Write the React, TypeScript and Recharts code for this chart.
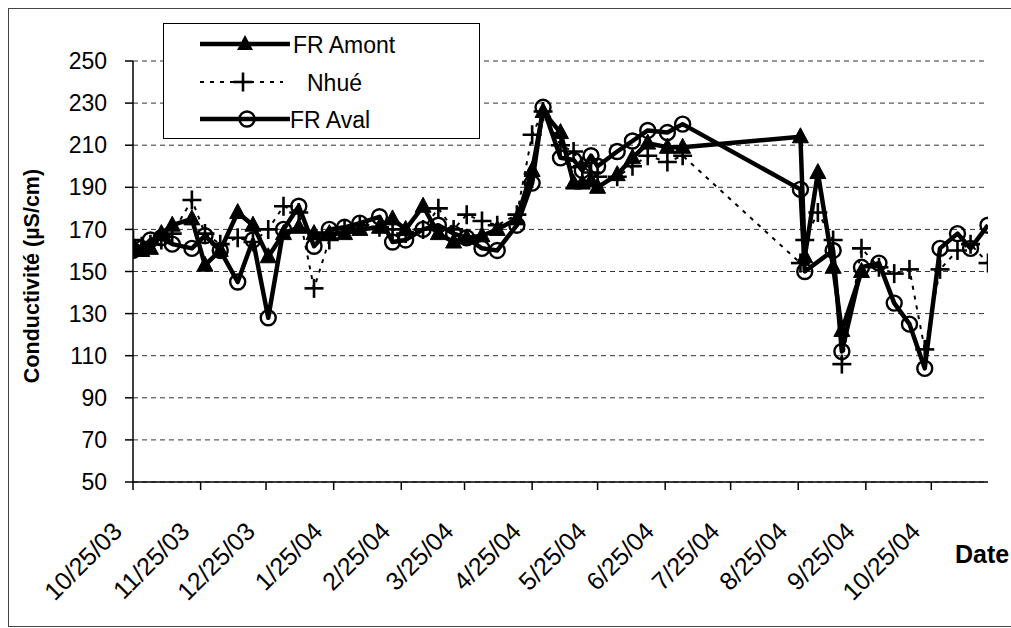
import React from 'react';
import { LineChart, Line, XAxis, YAxis, CartesianGrid, Legend } from 'recharts';

const sampleDates = [
  '2003-10-25', '2003-10-29', '2003-11-02', '2003-11-07', '2003-11-12', '2003-11-21', '2003-11-27',
  '2003-12-04', '2003-12-12', '2003-12-19', '2003-12-26', '2004-01-02', '2004-01-09', '2004-01-16',
  '2004-01-23', '2004-01-30', '2004-02-06', '2004-02-15', '2004-02-21', '2004-02-27', '2004-03-06',
  '2004-03-13', '2004-03-20', '2004-03-26', '2004-04-02', '2004-04-09', '2004-04-18', '2004-04-25',
  '2004-04-30', '2004-05-08', '2004-05-14', '2004-05-18', '2004-05-22', '2004-05-25', '2004-06-03',
  '2004-06-10', '2004-06-17', '2004-06-26', '2004-07-03', '2004-08-26', '2004-08-28', '2004-09-03',
  '2004-09-10', '2004-09-14', '2004-09-23', '2004-10-01', '2004-10-08', '2004-10-15', '2004-10-22',
  '2004-10-29', '2004-11-06', '2004-11-12', '2004-11-20',
];

const frAmont: (number | null)[] = [
  160, 160, 161, 168, 172, 175, 153, 160, 178, 172, 157, 168, 171, 168, 168, 168, 170, 171, 175, 170, 181,
  168, 164, 166, 167, 170, 175, 198, 226, 216, 192, 192, 193, 190, 196, 204, 211, 209, 209, 214, 157, 197,
  152, 122, 150, null, null, null, null, null, null, null, null,
];

const nhue: (number | null)[] = [
  165, 162, 163, 165, 168, 184, 168, 163, 166, 164, 170, 181, 178, 142, 165, 170, 172, 171, 170, 168, 170,
  180, 170, 177, 174, 172, 177, 215, 226, 210, 207, 200, 197, 195, 195, 200, 205, 202, 205, 154, 165, 178,
  165, 106, 161, 152, 149, 151, 113, 151, 160, 163, 154,
];

const frAval: (number | null)[] = [
  160, 161, 165, 166, 163, 161, 167, 160, 145, 165, 128, 170, 181, 162, 170, 171, 173, 176, 164, 165, 170,
  172, 168, 166, 161, 160, 172, 192, 228, 204, 203, 198, 205, 200, 207, 212, 217, 216, 220, 189, 150, null,
  160, 112, 152, 154, 135, 125, 104, 161, 168, 161, 172,
];

const tickDates = [
  '2003-10-25', '2003-11-25', '2003-12-25', '2004-01-25', '2004-02-25', '2004-03-25', '2004-04-25',
  '2004-05-25', '2004-06-25', '2004-07-25', '2004-08-25', '2004-09-25', '2004-10-25',
];
const tickLabels = [
  '10/25/03', '11/25/03', '12/25/03', '1/25/04', '2/25/04', '3/25/04', '4/25/04',
  '5/25/04', '6/25/04', '7/25/04', '8/25/04', '9/25/04', '10/25/04',
];
const axisEndDate = '2004-11-20';
const yTicks = [50, 70, 90, 110, 130, 150, 170, 190, 210, 230, 250];

const ORIGIN = Date.UTC(2003, 9, 25);
const dayOf = (s: string) => {
  const [y, m, d] = s.split('-').map(Number);
  return Math.round((Date.UTC(y, m - 1, d) - ORIGIN) / 86400000);
};

const data = sampleDates.map((d, i) => ({
  day: dayOf(d),
  amont: frAmont[i],
  nhue: nhue[i],
  aval: frAval[i],
}));
const tickDays = tickDates.map(dayOf);
const FONT = '"Liberation Sans", Arial, sans-serif';

const Tri = (p: any) => {
  const { cx, cy, index } = p;
  if (cx == null || cy == null || p.value == null) return <g key={`t${index}`} />;
  return (
    <polygon
      key={`t${index}`}
      points={`${cx},${cy - 9} ${cx + 8},${cy + 6} ${cx - 8},${cy + 6}`}
      fill="#000"
      stroke="#000"
      strokeWidth={1}
    />
  );
};

const Plus = (p: any) => {
  const { cx, cy, index } = p;
  if (cx == null || cy == null || p.value == null) return <g key={`p${index}`} />;
  return (
    <g key={`p${index}`} stroke="#000" strokeWidth={2.6}>
      <line x1={cx - 9.5} y1={cy} x2={cx + 9.5} y2={cy} />
      <line x1={cx} y1={cy - 9.5} x2={cx} y2={cy + 9.5} />
    </g>
  );
};

const Circ = (p: any) => {
  const { cx, cy, index } = p;
  if (cx == null || cy == null || p.value == null) return <g key={`c${index}`} />;
  return <circle key={`c${index}`} cx={cx} cy={cy} r={7.5} fill="none" stroke="#000" strokeWidth={2.4} />;
};

const XTick = (props: any) => {
  const { x, y, payload } = props;
  const idx = tickDays.indexOf(payload.value);
  const label = idx >= 0 ? tickLabels[idx] : '';
  const px = x - 9.5;
  const py = y + 41;
  return (
    <text x={px} y={py} transform={`rotate(-45 ${px} ${py})`} textAnchor="end" fontSize={25} fontFamily={FONT} fill="#000">
      {label}
    </text>
  );
};

const renderLegend = () => (
  <div style={{ width: 317, height: 116, border: '1.5px solid #000', background: '#fff', boxSizing: 'border-box', position: 'relative' }}>
    <svg width={317} height={116} style={{ position: 'absolute', left: -1.5, top: -1.5, overflow: 'visible' }}>
      <line x1={37} y1={21} x2={127} y2={21} stroke="#000" strokeWidth={4.5} />
      <polygon points="82,12 90,27 74,27" fill="#000" />
      <text x={130} y={29.5} fontSize={23} fontFamily={FONT} fill="#000">FR Amont</text>
      <line x1={37} y1={59} x2={120} y2={59} stroke="#000" strokeWidth={2} strokeDasharray="4 6" />
      <line x1={70.5} y1={59} x2={89.5} y2={59} stroke="#000" strokeWidth={2.6} />
      <line x1={80} y1={49.5} x2={80} y2={68.5} stroke="#000" strokeWidth={2.6} />
      <text x={144} y={67.5} fontSize={23} fontFamily={FONT} fill="#000">Nhué</text>
      <line x1={37} y1={96} x2={127} y2={96} stroke="#000" strokeWidth={4.5} />
      <circle cx={84} cy={96} r={7.5} fill="none" stroke="#000" strokeWidth={2.4} />
      <text x={127} y={104.5} fontSize={23} fontFamily={FONT} fill="#000">FR Aval</text>
    </svg>
  </div>
);

export default function App() {
  return (
    <div style={{ position: 'fixed', left: 0, top: 0, width: 1011, height: 628, overflow: 'hidden', background: '#fff' }}>
      <div style={{ position: 'absolute', left: 8, top: 8, width: 1030, height: 619, border: '1.5px solid #444', boxSizing: 'border-box' }} />
      <div style={{ position: 'absolute', left: 8, top: 8 }}>
        <LineChart width={1003} height={612} data={data} margin={{ top: 53, right: 23, left: 0, bottom: 0 }} style={{ fontFamily: FONT }}>
          <CartesianGrid vertical={false} stroke="#333" strokeDasharray="5 4" strokeWidth={1} />
          <XAxis
            dataKey="day"
            type="number"
            domain={[0, dayOf(axisEndDate)]}
            ticks={tickDays}
            interval={0}
            height={138}
            tickSize={8}
            tick={<XTick />}
            axisLine={{ stroke: '#000', strokeWidth: 1.5 }}
            tickLine={{ stroke: '#000', strokeWidth: 1.5 }}
            allowDataOverflow
            label={(p: any) => (
              <text x={947} y={555} fontSize={25} fontWeight="bold" fontFamily={FONT} fill="#000">Date</text>
            )}
          />
          <YAxis
            type="number"
            domain={[50, 250]}
            ticks={yTicks}
            interval={0}
            width={125}
            tickSize={8}
            tickMargin={18}
            tick={{ fontSize: 23, fill: '#000', fontFamily: FONT }}
            axisLine={{ stroke: '#000', strokeWidth: 1.5 }}
            tickLine={{ stroke: '#000', strokeWidth: 1.5 }}
            label={(p: any) => (
              <text x={30.5} y={268} transform="rotate(-90 30.5 268)" textAnchor="middle" fontSize={21.5} fontWeight="bold" fontFamily={FONT} fill="#000">
                Conductivité (µS/cm)
              </text>
            )}
          />
          <Legend
            content={renderLegend}
            layout="horizontal"
            verticalAlign="middle"
            align="center"
            wrapperStyle={{ position: 'absolute', left: 155, top: 15, width: 317, height: 116 }}
          />
          <Line dataKey="amont" name="FR Amont" stroke="#000" strokeWidth={4.5} dot={Tri} activeDot={false} connectNulls isAnimationActive={false} strokeLinejoin="round" />
          <Line dataKey="nhue" name="Nhué" stroke="#000" strokeWidth={2} strokeDasharray="4 6" dot={Plus} activeDot={false} connectNulls isAnimationActive={false} />
          <Line dataKey="aval" name="FR Aval" stroke="#000" strokeWidth={4.5} dot={Circ} activeDot={false} connectNulls isAnimationActive={false} strokeLinejoin="round" />
        </LineChart>
      </div>
    </div>
  );
}
